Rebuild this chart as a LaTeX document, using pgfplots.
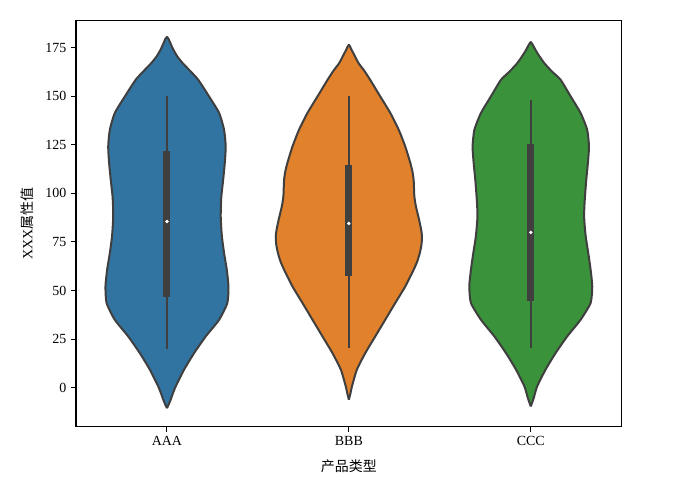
\documentclass[border=0pt]{standalone}
\usepackage{pgfplots}
\pgfplotsset{compat=1.18}
\usepackage{pgfplotstable}
\usepackage{fontspec}
\setmainfont{Liberation Serif}
\newfontfamily\cjk{Noto Sans CJK SC}
\definecolor{vblue}{HTML}{3274A1}
\definecolor{vorange}{HTML}{E1812C}
\definecolor{vgreen}{HTML}{3A923A}
\definecolor{vgray}{HTML}{3F3F3F}

% violin outlines: signed half-width (category units), value
\pgfplotstableread{
w v
0.000 -10.5
0.010 -8.5
0.020 -6.2
0.033 -2.8
0.048 0.7
0.094 9.3
0.149 17.8
0.213 26.4
0.287 35.0
0.332 43.6
0.338 52.1
0.329 60.7
0.314 69.3
0.302 77.8
0.296 86.4
0.296 92.0
0.299 98.4
0.309 107.0
0.318 115.6
0.323 124.1
0.314 132.7
0.287 141.3
0.231 149.9
0.172 158.4
0.127 163.0
0.086 167.0
0.057 170.4
0.035 173.9
0.018 177.4
0.008 179.6
0.000 180.4
-0.008 179.6
-0.018 177.4
-0.035 173.9
-0.057 170.4
-0.086 167.0
-0.127 163.0
-0.172 158.4
-0.231 149.9
-0.287 141.3
-0.314 132.7
-0.323 124.1
-0.318 115.6
-0.309 107.0
-0.299 98.4
-0.296 92.0
-0.296 86.4
-0.302 77.8
-0.314 69.3
-0.329 60.7
-0.338 52.1
-0.332 43.6
-0.287 35.0
-0.213 26.4
-0.149 17.8
-0.094 9.3
-0.048 0.7
-0.033 -2.8
-0.020 -6.2
-0.010 -8.5
0.000 -10.5
}\violinA

\pgfplotstableread{
w v
0.000 -6.2
0.009 -2.8
0.017 0.7
0.044 9.3
0.090 17.8
0.145 26.4
0.200 35.0
0.255 43.6
0.310 52.1
0.356 60.7
0.376 65.0
0.390 69.3
0.399 73.5
0.402 77.8
0.397 81.5
0.386 86.4
0.377 89.9
0.367 94.0
0.360 98.4
0.358 103.0
0.356 107.0
0.350 111.0
0.338 115.6
0.310 124.1
0.274 132.7
0.228 141.3
0.172 149.9
0.117 158.4
0.085 163.0
0.053 167.0
0.029 171.3
0.014 174.0
0.006 175.6
0.000 176.4
-0.006 175.6
-0.014 174.0
-0.029 171.3
-0.053 167.0
-0.085 163.0
-0.117 158.4
-0.172 149.9
-0.228 141.3
-0.274 132.7
-0.310 124.1
-0.338 115.6
-0.350 111.0
-0.356 107.0
-0.358 103.0
-0.360 98.4
-0.367 94.0
-0.377 89.9
-0.386 86.4
-0.397 81.5
-0.402 77.8
-0.399 73.5
-0.390 69.3
-0.376 65.0
-0.356 60.7
-0.310 52.1
-0.255 43.6
-0.200 35.0
-0.145 26.4
-0.090 17.8
-0.044 9.3
-0.017 0.7
-0.009 -2.8
0.000 -6.2
}\violinB

\pgfplotstableread{
w v
0.000 -9.6
0.008 -7.5
0.017 -5.0
0.035 0.7
0.081 9.3
0.136 17.8
0.200 26.4
0.274 35.0
0.329 43.6
0.338 52.1
0.329 60.7
0.316 69.3
0.302 77.8
0.294 86.4
0.294 92.0
0.298 98.4
0.305 107.0
0.314 115.6
0.320 124.1
0.310 132.7
0.274 141.3
0.219 149.9
0.164 158.4
0.117 162.6
0.074 167.0
0.037 172.0
0.016 175.5
0.007 177.0
0.000 177.8
-0.007 177.0
-0.016 175.5
-0.037 172.0
-0.074 167.0
-0.117 162.6
-0.164 158.4
-0.219 149.9
-0.274 141.3
-0.310 132.7
-0.320 124.1
-0.314 115.6
-0.305 107.0
-0.298 98.4
-0.294 92.0
-0.294 86.4
-0.302 77.8
-0.316 69.3
-0.329 60.7
-0.338 52.1
-0.329 43.6
-0.274 35.0
-0.200 26.4
-0.136 17.8
-0.081 9.3
-0.035 0.7
-0.017 -5.0
-0.008 -7.5
0.000 -9.6
}\violinC

\begin{document}
\begin{tikzpicture}
\begin{axis}[
  name=ax,
  scale only axis,
  width=409.3bp, height=304.5bp,
  xmin=-0.5, xmax=2.5,
  ymin=-20, ymax=188.8,
  xtick={0,1,2},
  xticklabels={AAA,BBB,CCC},
  ytick={0,25,50,75,100,125,150,175},
  tick pos=left,
  tick align=outside,
  major tick length=3.75bp,
  tick style={black, line width=0.8bp},
  axis line style={black, line width=0.8bp},
  /pgf/number format/assume math mode=true,
  tick label style={font=\fontsize{10.5}{12}\selectfont},
  xlabel={\cjk 产品类型},
  ylabel={XXX{\cjk 属性值}},
  every axis x label/.style={at={(axis description cs:0.5,-0.0985)}, anchor=center, font=\fontsize{10.5}{12}\selectfont},
  every axis y label/.style={at={(axis description cs:-0.0898,0.5)}, anchor=center, rotate=90, font=\fontsize{10.5}{12}\selectfont},
  clip=false,
]
% violins
\addplot[fill=vblue, draw=vgray, line width=1.5bp, line join=round, smooth, tension=0.35]
  table[x expr=0+\thisrow{w}, y=v]{\violinA};
\addplot[fill=vorange, draw=vgray, line width=1.5bp, line join=round, smooth, tension=0.35]
  table[x expr=1+\thisrow{w}, y=v]{\violinB};
\addplot[fill=vgreen, draw=vgray, line width=1.5bp, line join=round, smooth, tension=0.35]
  table[x expr=2+\thisrow{w}, y=v]{\violinC};
% whiskers
\addplot[vgray, line width=1.5bp] coordinates {(0,19.9) (0,150.2)};
\addplot[vgray, line width=1.5bp] coordinates {(1,20.7) (1,150.2)};
\addplot[vgray, line width=1.5bp] coordinates {(2,20.7) (2,148.1)};
% boxes
\addplot[vgray, line width=5.25bp] coordinates {(0,46.6) (0,121.9)};
\addplot[vgray, line width=5.25bp] coordinates {(1,57.6) (1,114.7)};
\addplot[vgray, line width=5.25bp] coordinates {(2,44.8) (2,125.3)};
% medians
\addplot[only marks, mark=*, mark size=1.1bp, mark options={fill=white, draw=white}]
  coordinates {(0,85.5) (1,84.5) (2,79.9)};
\end{axis}
\pgfresetboundingbox
\path ([shift={(-57bp,-40.7bp)}]ax.south west) rectangle ([shift={(49.7bp,15.5bp)}]ax.north east);
\end{tikzpicture}
\end{document}
